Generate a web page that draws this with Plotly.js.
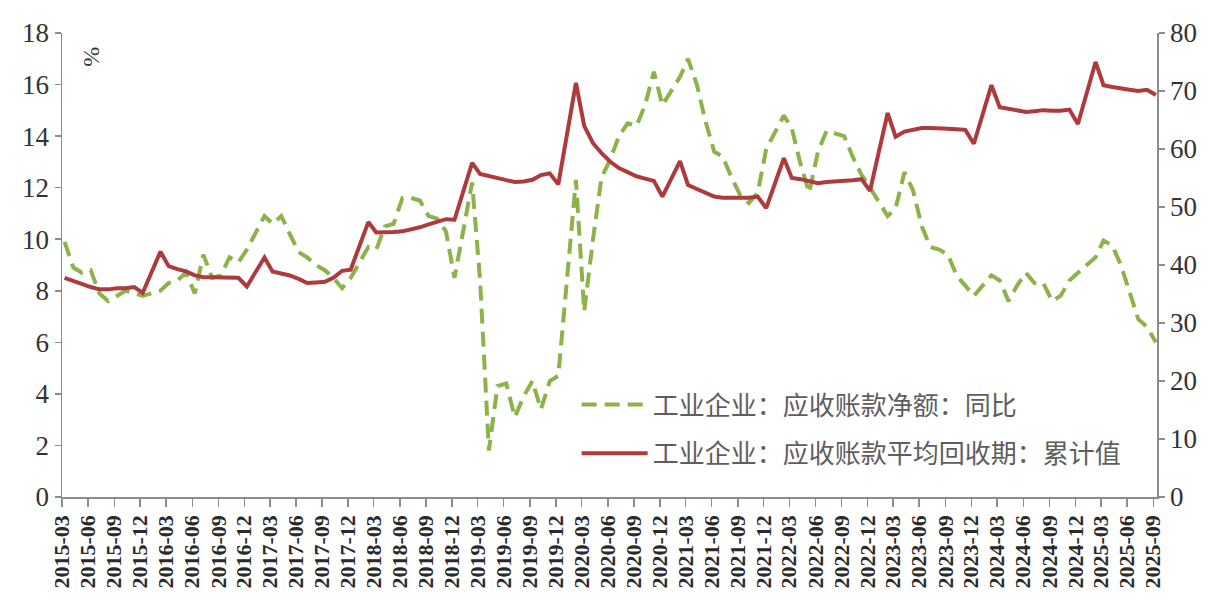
<!DOCTYPE html>
<html>
<head>
<meta charset="utf-8">
<script src="https://cdn.plot.ly/plotly-3.0.1.min.js"></script>
<style>
  html, body { margin: 0; padding: 0; background: #ffffff; }
  #chart { width: 1209px; height: 614px; }
</style>
</head>
<body>
<div id="chart"></div>
<script>
// Monthly periods: 2015-03 … 2025-09; January is not published (Jan–Feb reported together)
const firstYear = 2015, lastYear = 2025;
const periods = [];
for (let y = firstYear; y <= lastYear; y++) {
  const mStart = (y === firstYear) ? 3 : 2;
  const mEnd = (y === lastYear) ? 9 : 12;
  for (let m = mStart; m <= mEnd; m++) {
    periods.push(y + '-' + String(m).padStart(2, '0') + '-10');
  }
}

// 工业企业:应收账款净额:同比 (%), one row per year
const receivablesYoY = [
  9.9, 8.9, 8.7, 8.8, 7.9, 7.6, 7.8, 8.0, 7.9, 7.8,               // 2015 Mar–Dec
  8.0, 8.3, 8.4, 8.7, 7.9, 9.4, 8.5, 8.6, 9.3, 9.1, 9.6,          // 2016
  10.9, 10.6, 10.9, 10.2, 9.5, 9.3, 9.0, 8.8, 8.5, 8.1, 8.5,      // 2017
  9.7, 9.6, 10.5, 10.6, 11.6, 11.6, 11.5, 10.9, 10.8, 10.3, 8.5,  // 2018
  12.2, 8.4, 1.8, 4.3, 4.4, 3.1, 3.9, 4.5, 3.4, 4.5, 4.7,         // 2019
  12.3, 7.2, 10.0, 12.4, 13.1, 14.0, 14.5, 14.4, 15.2, 16.5, 15.2,// 2020
  16.3, 17.0, 16.0, 14.6, 13.4, 13.2, 12.4, 11.7, 11.4, 11.8, 13.5,// 2021
  14.8, 14.3, 12.9, 11.8, 13.4, 14.2, 14.1, 14.0, 13.2, 12.5, 12.0,// 2022
  10.9, 11.2, 12.6, 11.9, 10.5, 9.7, 9.6, 9.4, 8.6, 8.2, 7.8,     // 2023
  8.6, 8.4, 7.6, 8.2, 8.7, 8.3, 8.3, 7.6, 7.8, 8.4, 8.7,          // 2024
  9.3, 9.95, 9.75, 9.0, 7.9, 6.9, 6.6, 6.0                        // 2025 Feb–Sep
];

// 工业企业:应收账款平均回收期:累计值 (days), one row per year
const collectionDays = [
  37.8, 37.2, 36.8, 36.2, 35.8, 35.8, 36.0, 36.0, 36.2, 35.2,               // 2015 Mar–Dec
  42.3, 39.8, 39.3, 38.9, 38.2, 37.9, 37.9, 37.9, 37.9, 37.8, 36.3,          // 2016
  41.3, 38.9, 38.6, 38.2, 37.6, 36.9, 37.0, 37.1, 37.8, 39.0, 39.2,          // 2017
  47.4, 45.6, 45.6, 45.7, 45.8, 46.1, 46.5, 47.0, 47.5, 47.9, 47.8,          // 2018
  57.6, 55.7, 55.3, 55.0, 54.6, 54.3, 54.4, 54.7, 55.5, 55.8, 53.9,          // 2019
  71.4, 64.0, 61.0, 59.3, 57.8, 56.7, 56.0, 55.3, 54.9, 54.5, 51.8,          // 2020
  57.9, 53.8, 53.1, 52.4, 51.8, 51.6, 51.6, 51.6, 51.6, 51.8, 49.8,          // 2021
  58.4, 55.0, 54.8, 54.4, 54.1, 54.3, 54.4, 54.4, 54.6, 54.8, 52.8,          // 2022
  66.2, 62.1, 63.0, 63.3, 63.6, 63.6, 63.6, 63.5, 63.4, 63.3, 60.9,          // 2023
  71.0, 67.2, 66.9, 66.6, 66.4, 66.5, 66.7, 66.6, 66.6, 66.8, 64.3,          // 2024
  75.0, 71.0, 70.7, 70.4, 70.2, 70.0, 70.2, 69.3                             // 2025 Feb–Sep
];

const seriesNames = ['工业企业：应收账款净额：同比', '工业企业：应收账款平均回收期：累计值'];
const leftTicks = [0, 2, 4, 6, 8, 10, 12, 14, 16, 18];
const rightTicks = [0, 10, 20, 30, 40, 50, 60, 70, 80];

const axisColor = '#8c8c8c';
const serif = 'Liberation Serif, DejaVu Serif, serif';
const tickFont = { family: serif, size: 27, color: '#333333' };

const traces = [
  {
    type: 'scatter', mode: 'lines', name: seriesNames[0],
    x: periods, y: receivablesYoY, yaxis: 'y', legendgroup: 'a',
    line: { color: '#8cb24a', width: 4, dash: '15px,8px' }
  },
  {
    type: 'scatter', mode: 'lines', name: seriesNames[1],
    x: periods, y: collectionDays, yaxis: 'y2', legendgroup: 'b',
    line: { color: '#ad3a3c', width: 4 }
  }
];

const layout = {
  width: 1209, height: 614,
  margin: { l: 62, r: 52, t: 33, b: 117 },
  paper_bgcolor: '#ffffff', plot_bgcolor: '#ffffff',
  showlegend: true,
  legend: {
    x: 0.47, y: 0.25, xanchor: 'left', yanchor: 'top',
    bgcolor: 'rgba(0,0,0,0)', borderwidth: 0,
    font: { family: 'Noto Sans CJK SC, sans-serif', size: 26, color: '#5e5e5e' },
    itemwidth: 66, tracegroupgap: 12, traceorder: 'grouped'
  },
  xaxis: {
    type: 'date',
    range: ['2015-03-01', '2025-09-14'],
    tick0: '2015-03-01', dtick: 'M3', tickformat: '%Y-%m',
    tickangle: -90,
    tickfont: { family: serif, size: 22, color: '#2a2a2a', weight: 'bold' },
    ticks: 'outside', ticklen: 8, tickcolor: axisColor, tickwidth: 1.5,
    showline: true, linecolor: axisColor, linewidth: 1.5,
    showgrid: false, zeroline: false, fixedrange: true
  },
  yaxis: {
    range: [0, 18], tickvals: leftTicks, ticktext: leftTicks.map(String),
    tickfont: tickFont,
    ticks: 'outside', ticklen: 6, tickcolor: axisColor, tickwidth: 1.5,
    showline: true, linecolor: axisColor, linewidth: 1.5,
    showgrid: false, zeroline: false, fixedrange: true
  },
  yaxis2: {
    overlaying: 'y', side: 'right',
    range: [0, 80], tickvals: rightTicks, ticktext: rightTicks.map(String),
    tickfont: tickFont,
    ticks: 'outside', ticklen: 6, tickcolor: axisColor, tickwidth: 1.5,
    showline: true, linecolor: axisColor, linewidth: 1.5,
    showgrid: false, zeroline: false, fixedrange: true
  },
  annotations: [
    {
      xref: 'paper', yref: 'paper', x: 0.027, y: 0.95,
      xanchor: 'center', yanchor: 'middle',
      text: '%', showarrow: false, textangle: 90,
      font: { family: serif, size: 24, color: '#3a3a3a' }
    }
  ]
};

Plotly.newPlot('chart', traces, layout, { displayModeBar: false, staticPlot: true });
</script>
</body>
</html>
